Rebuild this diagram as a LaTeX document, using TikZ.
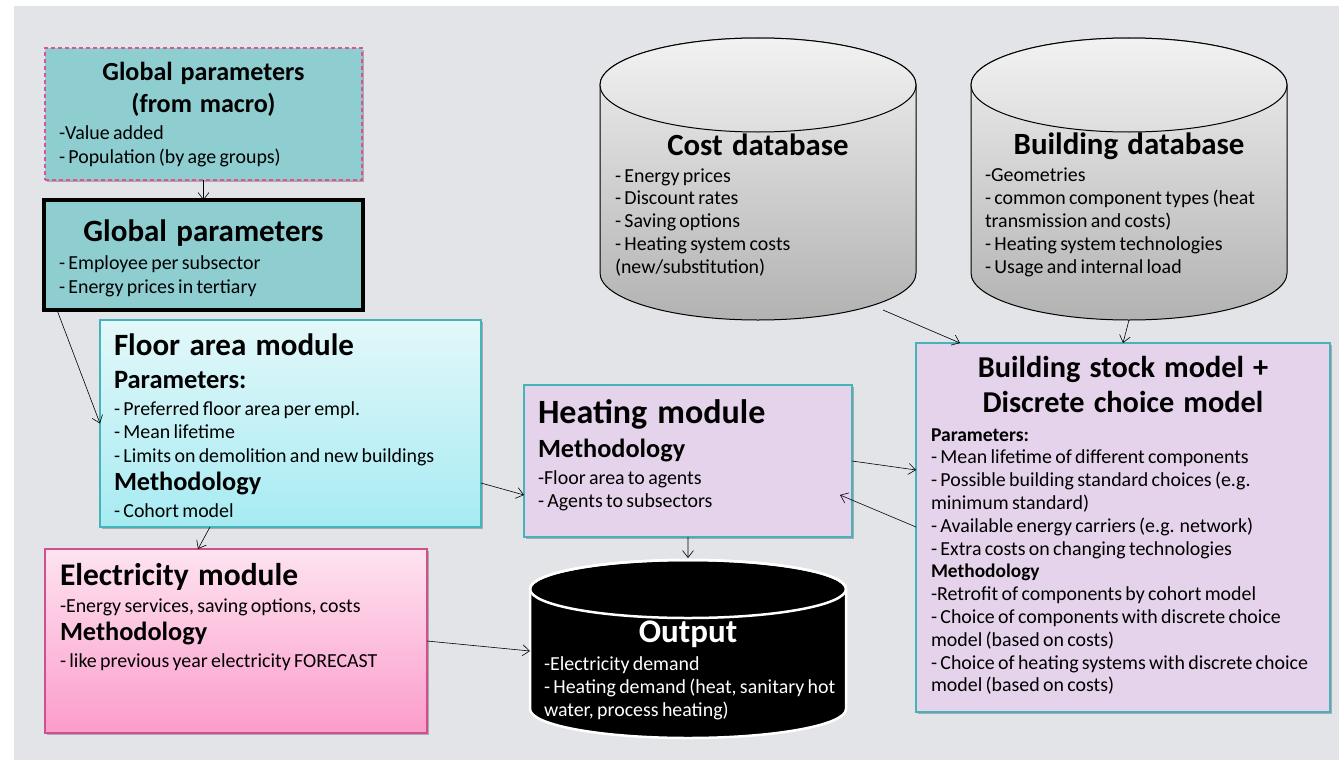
\documentclass[tikz,border=0pt]{standalone}
\usepackage{fontspec}
\setmainfont{Carlito}
\usetikzlibrary{arrows.meta,calc,shadows}
\setlength\parindent{0pt}
\setlength\parskip{0pt}
\definecolor{bgc}{HTML}{E3E4E8}
\definecolor{tealfill}{HTML}{8ECDD0}
\definecolor{pinkdash}{HTML}{D9529A}
\definecolor{tealb}{HTML}{46B3BA}
\definecolor{floortop}{HTML}{E3F8FA}
\definecolor{floorbot}{HTML}{A6EBF2}
\definecolor{electop}{HTML}{FDE3F0}
\definecolor{elecbot}{HTML}{FC9CCB}
\definecolor{elecb}{HTML}{D0508F}
\definecolor{lav}{HTML}{E4D3EA}
\definecolor{cyltop}{HTML}{F0F0F0}
\definecolor{cylbot}{HTML}{B2B2B2}
\definecolor{elltop}{HTML}{F2F2F2}
\definecolor{ellbot}{HTML}{DEDEDE}
\newcommand\myfs[2]{\fontsize{#1bp}{#2bp}\selectfont}
\newcommand\bodyfs[1]{\myfs{19.9}{#1}}
\newcommand\tsp{\spaceskip=0.30em\relax}
\begin{document}
\begin{tikzpicture}[x=1bp,y=-1bp,
  boxn/.style={inner sep=0pt, outer sep=0pt, anchor=north west},
  shad/.style={drop shadow={shadow xshift=2bp, shadow yshift=-2bp, opacity=0.25, fill=black}},
  arr/.style={-{Straight Barb[length=7bp,width=11bp]}, line width=0.6bp, black},
  txt/.style={anchor=base west, inner sep=0pt, outer sep=0pt, text width=470bp, align=left},
  ttl/.style={anchor=base, inner sep=0pt, outer sep=0pt, text width=470bp, align=center, font=\bfseries},
  hole/.style={inner sep=0pt, outer sep=0pt, anchor=north west}
]
\useasboundingbox (0,0) rectangle (1339,760);
\fill[bgc] (14,6) rectangle (1339,760);

% ---------- boxes ----------
\node[boxn, shad, fill=tealfill, draw=pinkdash, dash pattern=on 4bp off 3bp, line width=1.1bp,
  minimum width=317bp, minimum height=132bp] (macro) at (45,48) {};
\node[boxn, shad, fill=tealfill, draw=black, line width=3.5bp,
  minimum width=319bp, minimum height=110bp] (gp) at (44,200) {};
\node[boxn, shad, top color=floortop, bottom color=floorbot, draw=tealb, line width=1.3bp,
  minimum width=381bp, minimum height=207bp] (floor) at (100,320) {};
\node[boxn, shad, top color=electop, bottom color=elecbot, draw=elecb, line width=1.3bp,
  minimum width=382bp, minimum height=184bp] (elec) at (45,549) {};
\node[boxn, shad, fill=lav, draw=tealb, line width=1.3bp,
  minimum width=328bp, minimum height=152bp] (heat) at (524,385) {};
\node[boxn, shad, fill=lav, draw=tealb, line width=1.3bp,
  minimum width=414bp, minimum height=369bp] (bsm) at (916,343) {};

% ---------- cylinders ----------
\node[hole, minimum width=316bp, minimum height=282bp] (cost) at (600,38) {};
\path[draw=black, line width=1bp, top color=cyltop, bottom color=cylbot]
  (600,85) -- (600,273) arc[start angle=180, end angle=0, x radius=158, y radius=47]
  -- (916,85) arc[start angle=360, end angle=180, x radius=158, y radius=47] -- cycle;
\path[draw=black, line width=1bp, top color=elltop, bottom color=ellbot]
  (758,85) ellipse[x radius=158, y radius=47];

\node[hole, minimum width=316bp, minimum height=282bp] (bldg) at (971,38) {};
\path[draw=black, line width=1bp, top color=cyltop, bottom color=cylbot]
  (971,85) -- (971,273) arc[start angle=180, end angle=0, x radius=158, y radius=47]
  -- (1287,85) arc[start angle=360, end angle=180, x radius=158, y radius=47] -- cycle;
\path[draw=black, line width=1bp, top color=elltop, bottom color=ellbot]
  (1129,85) ellipse[x radius=158, y radius=47];

\node[hole, minimum width=316bp, minimum height=180bp] (out) at (530,558) {};
\path[fill=black, draw=white, line width=2.5bp]
  (530,589) -- (530,709) arc[start angle=180, end angle=0, x radius=158, y radius=29]
  -- (846,589) arc[start angle=360, end angle=180, x radius=158, y radius=29] -- cycle;
\draw[white, line width=2.5bp] (688,589) ellipse[x radius=158, y radius=29];

% ---------- texts ----------
\node[ttl] (macroT) at (203.5,80) {\myfs{26.1}{32}\tsp Global parameters\par(from macro)\par};
\node[txt] (macroB) at (59,139) {\bodyfs{24}-Value added\par- Population (by age groups)\par};

\node[ttl] (gpT) at (203.5,241) {\myfs{31}{34}\tsp Global parameters\par};
\node[txt] (gpB) at (59,269) {\bodyfs{24}- Employee per subsector\par- Energy prices in tertiary\par};

\node[txt] (floorT) at (114,355) {%
  {\bfseries\myfs{31}{34}\tsp Floor area module\par}%
  {\bfseries\myfs{26.5}{33}Parameters:\par}%
  {\bodyfs{27}- Preferred floor area per empl.\par}%
  {\bodyfs{23.5}- Mean lifetime\par- Limits on demolition and new buildings\par}%
  {\bfseries\myfs{26.3}{28}Methodology\par}%
  {\bodyfs{27}- Cohort model\par}};

\node[txt] (elecT) at (60,585) {%
  {\bfseries\myfs{31.5}{34}\tsp Electricity module\par}%
  {\bodyfs{27}-Energy services, saving options, costs\par}%
  {\bfseries\myfs{26.3}{28}Methodology\par}%
  {\bodyfs{27}- like previous year electricity FORECAST\par}};

\node[txt] (heatT) at (538,423) {%
  {\bfseries\myfs{34}{36}\tsp Heating module\par}%
  {\bfseries\myfs{26.3}{34}Methodology\par}%
  {\bodyfs{27}-Floor area to agents\par}%
  {\bodyfs{23}- Agents to subsectors\par}};

\node[ttl, text=white] (outT) at (688,642) {\myfs{33}{36}Output\par};
\node[txt, text=white] (outB) at (544,670) {\bodyfs{23}-Electricity demand\par- Heating demand (heat, sanitary hot\par water, process heating)\par};

\node[ttl] (costT) at (758,155) {\myfs{30.8}{34}\tsp Cost database\par};
\node[txt] (costB) at (615,182) {\bodyfs{22.8}- Energy prices\par- Discount rates\par- Saving options\par- Heating system costs\par (new/substitution)\par};

\node[ttl] (bldgT) at (1129,154) {\myfs{30.9}{34}\tsp Building database\par};
\node[txt] (bldgB) at (985,181) {\bodyfs{23}-Geometries\par- common component types (heat\par transmission and costs)\par- Heating system technologies\par- Usage and internal load\par};

\node[ttl] (bsmT) at (1123,377) {\myfs{30.3}{35}\tsp Building stock model +\par Discrete choice model\par};
\node[txt] (bsmB) at (931,441) {%
  {\bfseries\myfs{19.6}{22}Parameters:\par}%
  {\bodyfs{22.8}- Mean lifetime of different components\par- Possible building standard choices (e.g.\par minimum standard)\par- Available energy carriers (e.g. network)\par- Extra costs on changing technologies\par}%
  {\bfseries\myfs{19.4}{22.8}Methodology\par}%
  {\bodyfs{22.8}-Retrofit of components by cohort model\par- Choice of components with discrete choice\par model (based on costs)\par- Choice of heating systems with discrete choice\par model (based on costs)\par}};

% ---------- connectors ----------
\draw[arr] (macro.south) -- (gp.north);
\draw[arr] ($(gp.south west)+(13,0)$) -- (floor.west);
\draw[arr] ($(floor.south west)+(110,0)$) -- ($(elec.north west)+(153,0)$);
\draw[arr] ($(floor.north east)+(0,163)$) -- ($(heat.north west)+(0,110)$);
\draw[arr] (elec.east) -- ($(out.north west)+(0,93)$);
\draw[arr] (heat.south) -- (out.north);
\draw[arr] (heat.east) -- ($(bsm.north west)+(0,127)$);
\draw[arr] ($(bsm.north west)+(0,184)$) -- ($(heat.north east)+(-12,110)$);
\draw[arr] ($(cost.south east)+(-33,-10)$) -- ($(bsm.north west)+(44,0)$);
\draw[arr] (bldg.south) -- ($(bsm.north west)+(207,0)$);
\end{tikzpicture}
\end{document}
